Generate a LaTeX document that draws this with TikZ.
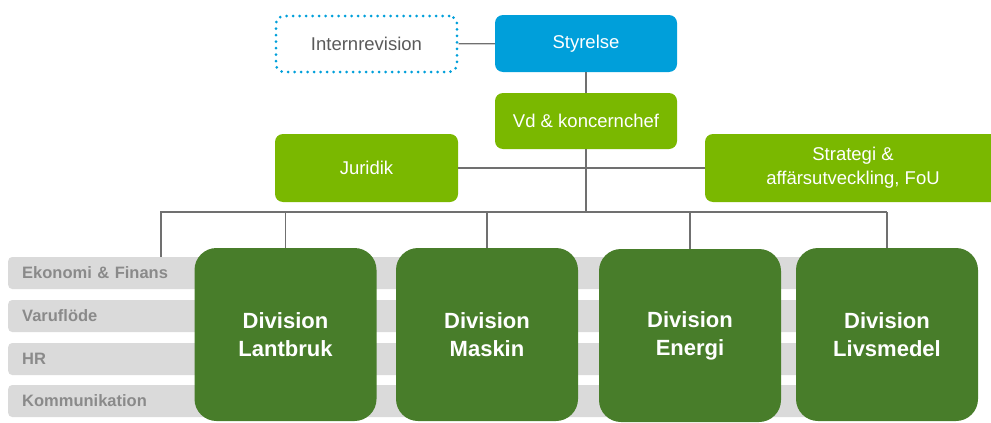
\documentclass[tikz,border=0pt]{standalone}
\usepackage{fontspec}
\setmainfont{Liberation Sans}
\definecolor{boardblue}{HTML}{009FDA}
\definecolor{lightgreen}{HTML}{7AB800}
\definecolor{darkgreen}{HTML}{487D2A}
\definecolor{bargray}{HTML}{DADADA}
\definecolor{bartext}{HTML}{8A8A8A}
\definecolor{linegray}{HTML}{707070}
\definecolor{revtext}{HTML}{5A5A5A}
\begin{document}
\begin{tikzpicture}[x=1pt,y=-1pt,
  box/.style={rounded corners=8pt, text=white, align=center, inner sep=0pt,
    font=\fontsize{18.5}{24}\selectfont},
  division/.style={fill=darkgreen, rounded corners=22pt, minimum width=182pt,
    minimum height=173pt, text=white, align=center,
    font=\fontsize{22}{28}\selectfont\bfseries},
  bar/.style={fill=bargray, rounded corners=4pt, minimum height=32pt, anchor=west,
    text width=900pt, inner xsep=14pt, inner ysep=0pt, align=left, text=bartext,
    font=\fontsize{16.5}{20}\selectfont\bfseries},
  conn/.style={draw=linegray, line width=1.3pt}]
\useasboundingbox (0,0) rectangle (991,423);
\clip (0,0) rectangle (991,423);
% functions behind the divisions
\node[bar] (ekonomi) at (8,273) {Ekonomi \& Finans};
\node[bar] (varufl) at (8,316) {Varuflöde};
\node[bar] (hr) at (8,359) {HR};
\node[bar] (komm) at (8,401) {Kommunikation};
% top of the tree
\node[box, draw=boardblue, line width=3pt, dash pattern=on 0pt off 6.5pt, line cap=round,
  text=revtext, minimum width=181pt, minimum height=56pt] (intern) at (366.5,44) {Internrevision};
\node[box, fill=boardblue, minimum width=182pt, minimum height=57pt] (styrelse) at (586,43.5) {Styrelse};
\node[box, fill=lightgreen, minimum width=182pt, minimum height=56pt] (vd) at (586,121) {Vd \& koncernchef};
\node[box, fill=lightgreen, minimum width=183pt, minimum height=68pt] (juridik) at (366.5,168) {Juridik};
\node[box, fill=lightgreen, minimum width=296pt, minimum height=68pt] (strategi) at (853,168) {Strategi \&\\affärsutveckling, FoU};
% divisions
\node[division] (lantbruk) at (285.5,334.5) {Division\\Lantbruk};
\node[division] (maskin) at (487,334.5) {Division\\Maskin};
\node[division] (energi) at (690,335.5) {Division\\Energi};
\node[division] (livsmedel) at (887,334.5) {Division\\Livsmedel};
% connectors
\coordinate (busleft) at (161,212);
\draw[conn] (intern) -- (styrelse);
\draw[conn] (styrelse) -- (vd);
\draw[conn] (juridik) -- (strategi);
\draw[conn] (vd) -- (vd |- busleft);
\draw[conn] (ekonomi.north -| busleft) -- (busleft) -- (busleft -| livsmedel.north);
\foreach \d in {lantbruk, maskin, energi, livsmedel}
  \draw[conn] (\d.north) -- (\d.north |- busleft);
\end{tikzpicture}
\end{document}
